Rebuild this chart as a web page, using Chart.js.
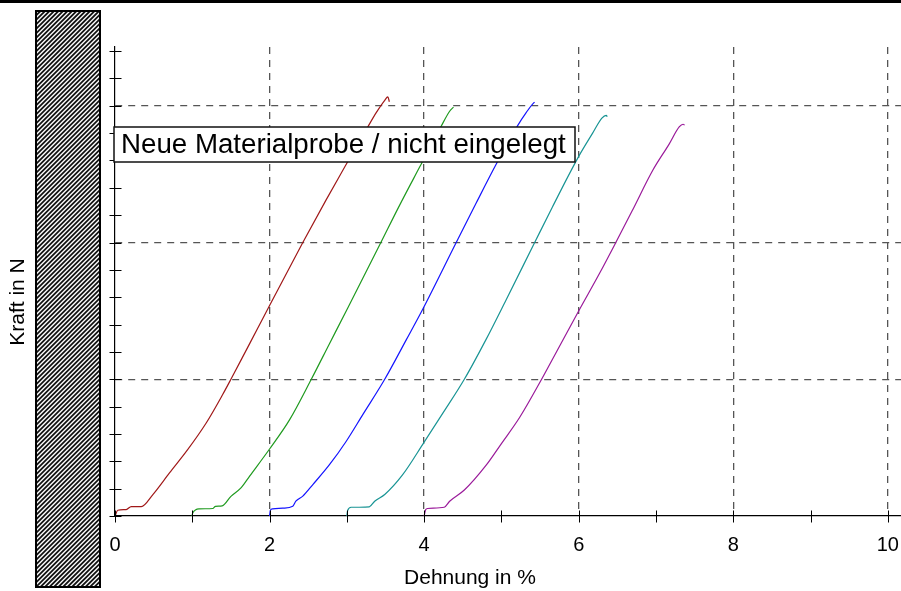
<!DOCTYPE html>
<html>
<head>
<meta charset="utf-8">
<title>Kraft / Dehnung</title>
<script src="https://cdn.jsdelivr.net/npm/chart.js@4"></script>
<style>
    html, body { margin: 0; padding: 0; background: #fff; }
    #wrap { position: relative; width: 901px; height: 591px; }
</style>
</head>
<body>
<div id="wrap"><canvas id="kraftChart" width="901" height="591"></canvas></div>
<script>
// Messwerte (Dehnung in %, Kraft in Gitterteilungen)
const dehnung1 = [0, 0.036, 0.145, 0.21, 0.34, 0.49, 0.705, 0.94, 1.18, 1.395, 1.50, 1.70, 1.87, 2.0, 2.43, 2.73, 2.97, 3.12, 3.27, 3.38, 3.49, 3.53, 3.55];
const kraft1 = [0, 0.042, 0.047, 0.069, 0.069, 0.157, 0.315, 0.485, 0.68, 0.89, 1.0, 1.215, 1.398, 1.54, 2.0, 2.31, 2.55, 2.70, 2.845, 2.95, 3.04, 3.065, 3.03];

const dehnung2 = [0.995, 1.007, 1.09, 1.265, 1.30, 1.387, 1.50, 1.63, 1.74, 2.0, 2.26, 2.54, 2.775, 3.01, 3.44, 3.68, 3.94, 4.22, 4.33, 4.38];
const kraft2 = [0, 0.024, 0.052, 0.055, 0.071, 0.074, 0.144, 0.205, 0.29, 0.49, 0.705, 1.0, 1.26, 1.52, 2.0, 2.27, 2.55, 2.85, 2.96, 2.99];

const dehnung3 = [2.0, 2.01, 2.04, 2.17, 2.30, 2.34, 2.43, 2.56, 2.775, 2.99, 3.21, 3.49, 3.77, 3.98, 4.415, 4.67, 4.93, 5.21, 5.32, 5.415, 5.43];
const kraft3 = [0, 0.042, 0.052, 0.057, 0.071, 0.108, 0.145, 0.23, 0.375, 0.545, 0.745, 1.0, 1.29, 1.51, 2.0, 2.285, 2.57, 2.855, 2.95, 3.02, 3.025];

const dehnung4 = [3.0, 3.01, 3.055, 3.16, 3.29, 3.36, 3.49, 3.72, 4.0, 4.24, 4.52, 4.80, 5.06, 5.43, 5.66, 6.0, 6.18, 6.30, 6.355, 6.37];
const kraft4 = [0, 0.04, 0.064, 0.064, 0.067, 0.108, 0.157, 0.30, 0.54, 0.75, 1.0, 1.29, 1.58, 2.0, 2.26, 2.63, 2.80, 2.91, 2.93, 2.92];

const dehnung5 = [4.0, 4.02, 4.045, 4.26, 4.33, 4.52, 4.80, 5.0, 5.235, 5.52, 5.75, 6.01, 6.27, 6.48, 6.69, 6.96, 7.17, 7.30, 7.35, 7.37];
const kraft5 = [0, 0.047, 0.055, 0.064, 0.108, 0.19, 0.37, 0.53, 0.72, 1.0, 1.24, 1.51, 1.775, 2.0, 2.23, 2.53, 2.72, 2.845, 2.865, 2.86];

const xTicks = [0, 1, 2, 3, 4, 5, 6, 7, 8, 9, 10];
const xLabels = ['0', '', '2', '', '4', '', '6', '', '8', '', '10'];
const yTicks = [0, 0.2, 0.4, 0.6, 0.8, 1, 1.2, 1.4, 1.6, 1.8, 2, 2.2, 2.4, 2.6, 2.8, 3, 3.2, 3.4];

const xTitle = 'Dehnung in %';
const yTitle = 'Kraft in N';
const noteText = 'Neue Materialprobe / nicht eingelegt';

const FONT = '"Liberation Sans", Arial, sans-serif';

function toPoints(xs, ys) {
    return xs.map((x, i) => ({ x: x, y: ys[i] }));
}

function curve(xs, ys, color) {
    return {
        data: toPoints(xs, ys),
        borderColor: color,
        borderWidth: 1.2,
        pointRadius: 0,
        cubicInterpolationMode: 'monotone',
        fill: false
    };
}

function isMajor(v) {
    return v > 0 && Math.abs(v - Math.round(v)) < 1e-6;
}

// Kreuzende Teilstriche, Schraffur, Beschriftung
const decorations = {
    id: 'decorations',
    afterDraw(chart) {
        const c = chart.ctx;
        const xs = chart.scales.x;
        const ys = chart.scales.y;
        c.save();

        // top bar
        c.fillStyle = '#000';
        c.fillRect(0, 0, chart.width, 3);

        // hatched strip
        const hx = 36, hy = 11, hw = 64, hh = 576;
        c.save();
        c.beginPath();
        c.rect(hx, hy, hw, hh);
        c.clip();
        c.fillStyle = '#fff';
        c.fillRect(hx, hy, hw, hh);
        c.strokeStyle = '#111';
        c.lineWidth = 1.8;
        for (let k = -hh; k < hw + hh; k += 4.5) {
            c.beginPath();
            c.moveTo(hx + k, hy);
            c.lineTo(hx + k - hh, hy + hh);
            c.stroke();
        }
        c.restore();
        c.strokeStyle = '#000';
        c.lineWidth = 2;
        c.strokeRect(hx, hy, hw, hh);

        // tick marks crossing the axes
        c.strokeStyle = '#000';
        c.lineWidth = 1;
        const ax = Math.round(xs.left) + 0.5;
        ys.ticks.forEach(t => {
            const y = Math.round(ys.getPixelForValue(t.value)) + 0.5;
            c.beginPath();
            c.moveTo(ax - 6, y);
            c.lineTo(ax + 6, y);
            c.stroke();
        });
        const ay = Math.round(ys.bottom) + 0.5;
        xs.ticks.forEach(t => {
            const x = Math.round(xs.getPixelForValue(t.value)) + 0.5;
            c.beginPath();
            c.moveTo(x, ay - 6);
            c.lineTo(x, ay + 6);
            c.stroke();
        });

        // axis titles
        c.fillStyle = '#000';
        c.font = '21px ' + FONT;
        c.textAlign = 'center';
        c.textBaseline = 'middle';
        c.fillText(xTitle, 470, 578);
        c.save();
        c.translate(18, 302);
        c.rotate(-Math.PI / 2);
        c.fillText(yTitle, 0, 0);
        c.restore();

        // note box
        c.fillStyle = '#fff';
        c.fillRect(114, 127, 461, 35);
        c.strokeStyle = '#111';
        c.lineWidth = 1.5;
        c.strokeRect(114, 127, 461, 35);
        c.fillStyle = '#000';
        c.font = '27.7px ' + FONT;
        c.textAlign = 'left';
        c.textBaseline = 'alphabetic';
        c.fillText(noteText, 121, 153);

        c.restore();
    }
};

const ctx = document.getElementById('kraftChart').getContext('2d');

const chart = new Chart(ctx, {
    type: 'line',
    data: {
        datasets: [
            curve(dehnung1, kraft1, '#a01818'),
            curve(dehnung2, kraft2, '#1f9a1f'),
            curve(dehnung3, kraft3, '#1414ff'),
            curve(dehnung4, kraft4, '#189494'),
            curve(dehnung5, kraft5, '#9a1a9a')
        ]
    },
    options: {
        responsive: false,
        animation: false,
        layout: { padding: { top: 47, left: 0, right: 0, bottom: 0 } },
        plugins: {
            legend: { display: false },
            tooltip: { enabled: false },
            title: { display: false }
        },
        scales: {
            x: {
                type: 'linear',
                min: 0,
                max: 10.17,
                afterBuildTicks: scale => {
                    scale.ticks = xTicks.map(v => ({ value: v }));
                },
                afterFit: scale => {
                    scale.height = 75;
                    scale.paddingLeft = 0;
                    scale.paddingRight = 0;
                },
                grid: {
                    drawTicks: false,
                    color: c => (c.tick && isMajor(c.tick.value) && c.tick.value % 2 === 0) ? '#555' : 'transparent',
                    lineWidth: 1.3
                },
                border: { display: true, color: '#000', width: 1.2, dash: [7, 6] },
                ticks: {
                    autoSkip: false,
                    maxRotation: 0,
                    padding: 17,
                    color: '#000',
                    font: { family: FONT, size: 20 },
                    callback: (value, index) => xLabels[index]
                }
            },
            y: {
                type: 'linear',
                min: 0,
                max: 3.43,
                afterBuildTicks: scale => {
                    scale.ticks = yTicks.map(v => ({ value: v }));
                },
                afterFit: scale => {
                    scale.width = 115;
                    scale.paddingTop = 0;
                    scale.paddingBottom = 0;
                },
                grid: {
                    drawTicks: false,
                    color: c => (c.tick && isMajor(c.tick.value)) ? '#555' : 'transparent',
                    lineWidth: 1.3
                },
                border: { display: true, color: '#000', width: 1.2, dash: [7, 6] },
                ticks: { display: false }
            }
        }
    },
    plugins: [decorations]
});
</script>
</body>
</html>
